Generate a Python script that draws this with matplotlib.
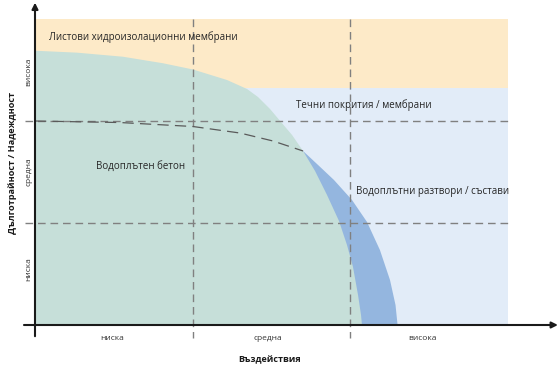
import matplotlib
matplotlib.use("Agg")
import matplotlib.pyplot as plt
from matplotlib.patches import Polygon, Rectangle

plt.rcParams['font.family'] = ['Open Sans', 'DejaVu Sans']

# category labels
x_levels = ["ниска", "средна", "висока"]
y_levels = ["ниска", "средна", "висока"]
x_label_pos = [0.49, 1.48, 2.46]
y_label_pos = [0.55, 1.50, 2.48]

# region boundaries (data units)
sheet_band = (2.32, 3.0)      # orange band y-range
liquid_top = 2.32             # light blue area top

# watertight concrete boundary (green)
green_x = [0.000, 0.267, 0.559, 0.813, 1.003, 1.219, 1.346, 1.416, 1.492, 1.562,
           1.632, 1.702, 1.778, 1.854, 1.930, 1.981, 2.019, 2.051, 2.070, 2.076]
green_y = [2.689, 2.670, 2.630, 2.566, 2.505, 2.402, 2.314, 2.235, 2.118, 1.990,
           1.863, 1.706, 1.510, 1.275, 1.020, 0.784, 0.569, 0.294, 0.098, 0.000]

# watertight mortars boundary (blue, solid part)
blue_x = [1.702, 1.797, 1.898, 2.013, 2.108, 2.190, 2.254, 2.289, 2.302]
blue_y = [1.706, 1.569, 1.422, 1.225, 1.010, 0.735, 0.441, 0.196, 0.000]

# continuation of the mortar boundary (dashed)
dash_x = [0.000, 0.540, 1.003, 1.302, 1.511, 1.702]
dash_y = [2.000, 1.985, 1.946, 1.882, 1.804, 1.706]

dividers = [1.0, 2.0]

fig = plt.figure(figsize=(5.6, 3.68), dpi=100)
ax = fig.add_axes([0, 0, 1, 1])
ax.set_xlim(-35 / 157.5, 525 / 157.5)
ax.set_ylim(-43 / 102, 325 / 102)
ax.axis("off")

# background areas
ax.add_patch(Rectangle((0, sheet_band[0]), 3.0, sheet_band[1] - sheet_band[0],
                       facecolor="#fdeac8", edgecolor="none", zorder=1))
ax.add_patch(Rectangle((0, 0), 3.0, liquid_top,
                       facecolor="#e2ecf8", edgecolor="none", zorder=1))

blue_pts = list(zip(blue_x, blue_y)) + [(1.6, 0.0)]
ax.add_patch(Polygon(blue_pts, closed=True, facecolor="#94b6df", edgecolor="none", zorder=2))

green_pts = [(0, 0)] + list(zip(green_x, green_y))
ax.add_patch(Polygon(green_pts, closed=True, facecolor="#c6dfd9", edgecolor="none", zorder=3))

# grid dividers
for d in dividers:
    ax.plot([-0.065, 3.0], [d, d], color="#808080", lw=1.0, dashes=(5.5, 3.5), zorder=4)
    ax.plot([d, d], [3.0, -0.13], color="#808080", lw=1.0, dashes=(5.5, 3.5), zorder=4)

ax.plot(dash_x, dash_y, color="#5a5a5a", lw=0.9, dashes=(9, 5), zorder=4)

# axes with arrows
ax.annotate("", xy=(3.32, 0), xytext=(-0.07, 0),
            arrowprops=dict(arrowstyle="-|>", lw=1.5, color="#1a1a1a",
                            mutation_scale=9, shrinkA=0, shrinkB=0), zorder=5)
ax.annotate("", xy=(0, 3.16), xytext=(0, -0.11),
            arrowprops=dict(arrowstyle="-|>", lw=1.5, color="#1a1a1a",
                            mutation_scale=9, shrinkA=0, shrinkB=0), zorder=5)

# tick labels
for lbl, pos in zip(x_levels, x_label_pos):
    ax.text(pos, -0.13, lbl, ha="center", va="center", fontsize=6, color="#333333")
for lbl, pos in zip(y_levels, y_label_pos):
    ax.text(-0.04, pos, lbl, ha="center", va="center", fontsize=6, color="#333333", rotation=90)

ax.text(1.49, -0.34, "Въздействия", ha="center", va="center", fontsize=6.5,
        fontweight="bold", color="#1a1a1a")
ax.text(-0.146, 1.59, "Дълготрайност / Надеждност", ha="center", va="center", fontsize=6.6,
        fontweight="bold", color="#1a1a1a", rotation=90)

# region names
txt = dict(fontsize=7, color="#262626", va="center", ha="left", zorder=6)
ax.text(0.09, 2.82, "Листови хидроизолационни мембрани", **txt)
ax.text(1.66, 2.16, "Течни покрития / мембрани", **txt)
ax.text(0.39, 1.55, "Водоплътен бетон", **txt)
ax.text(2.04, 1.31, "Водоплътни разтвори / състави", **txt)

fig.savefig("out.png", dpi=100)
